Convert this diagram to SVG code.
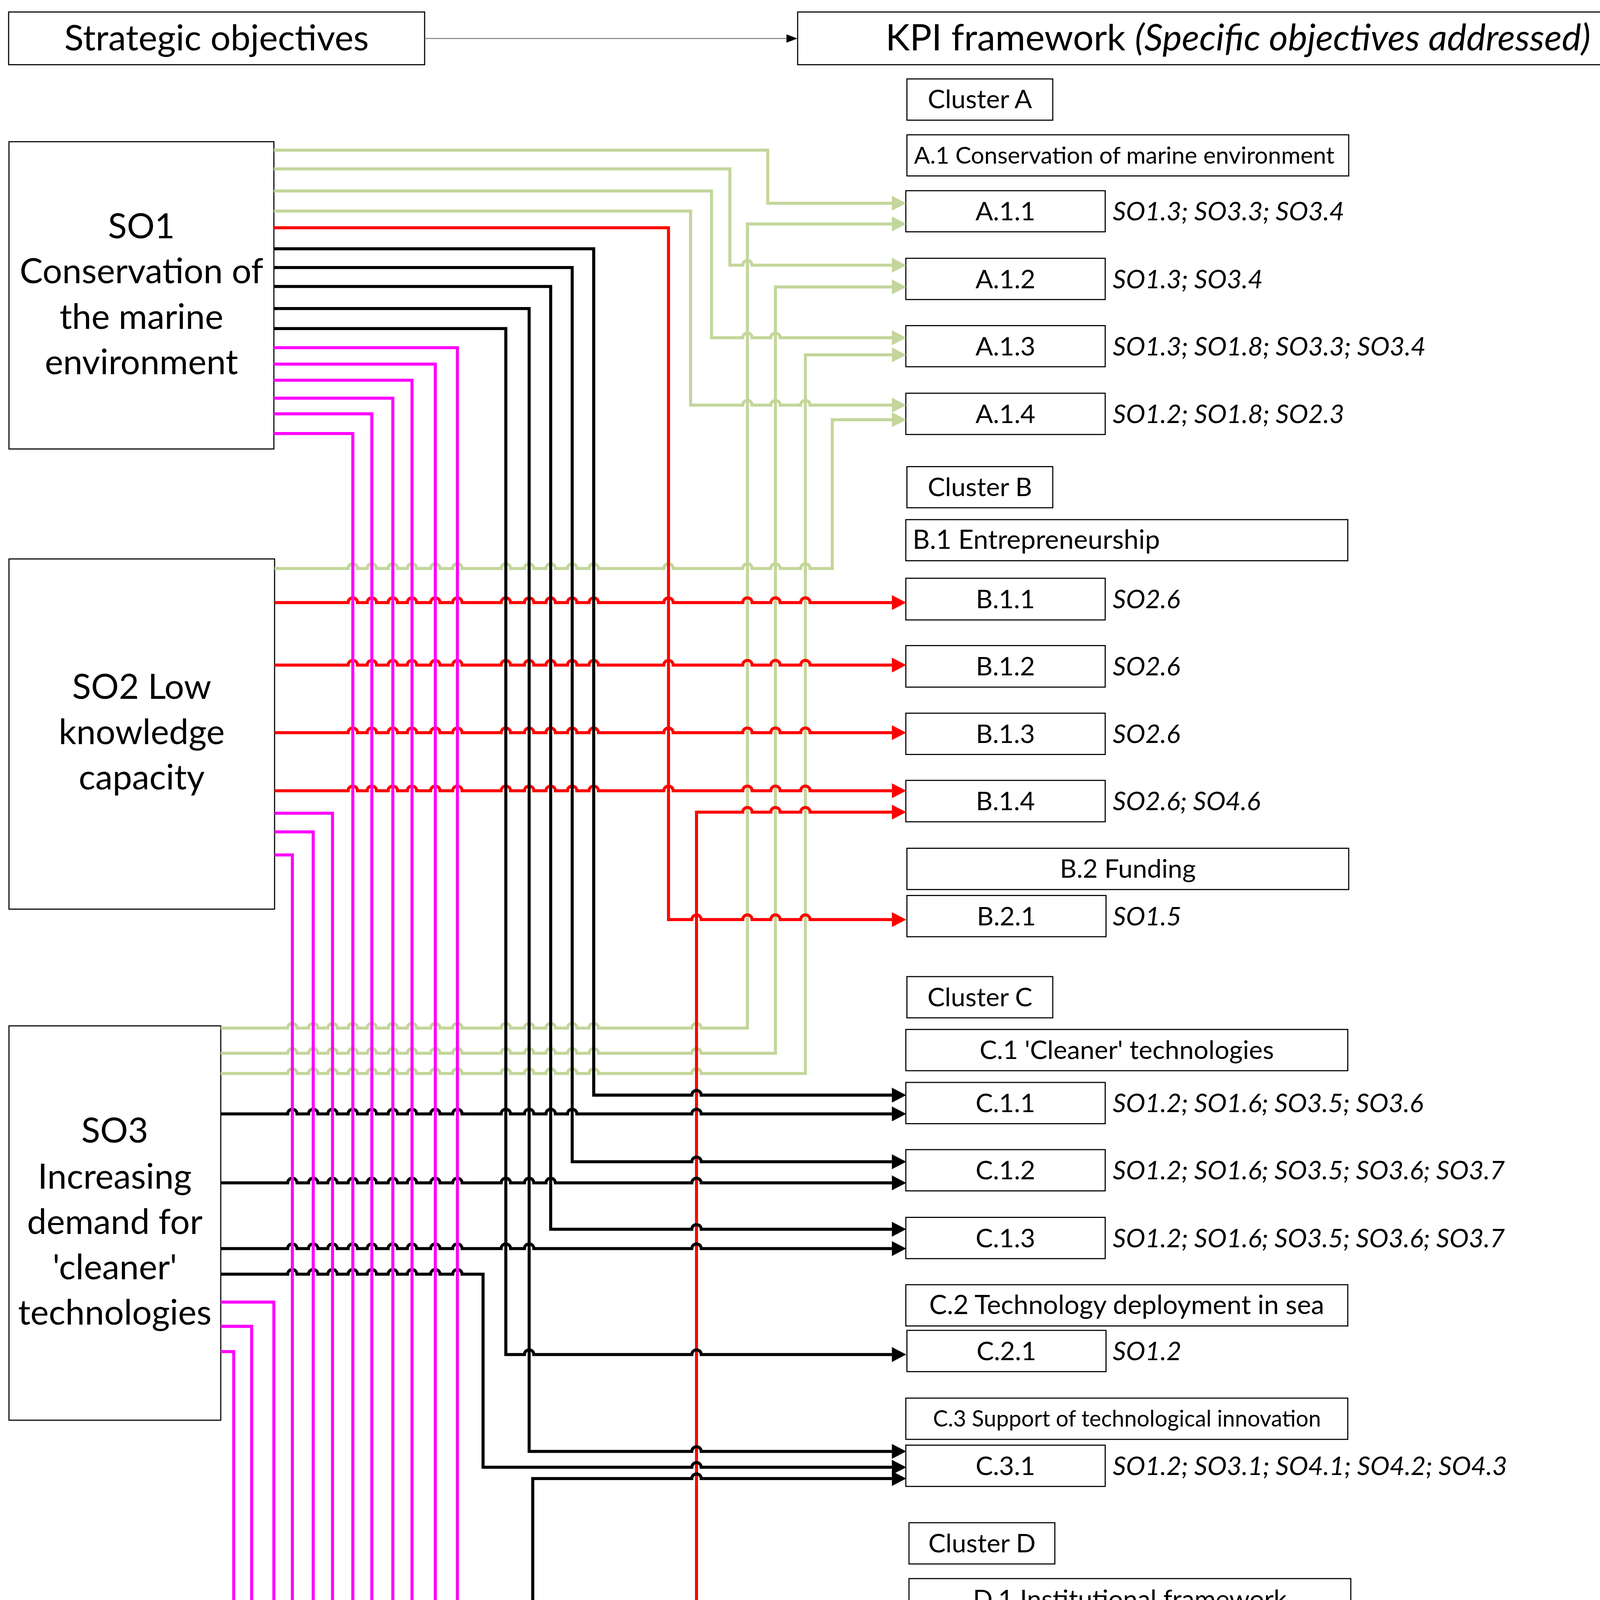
<svg xmlns="http://www.w3.org/2000/svg" width="4327" height="5527" viewBox="0 0 4327 5527">
<style>
.box{fill:#fff;stroke:#000;stroke-width:0.8}
.c{fill:none;stroke-width:2.2;stroke-linejoin:miter}
.g{stroke:#C3D69B}
.r{stroke:#FF0000}
.k{stroke:#000000}
.m{stroke:#FF00FF}
.g.c{marker-end:url(#ag)}
.r.c{marker-end:url(#ar)}
.k.c{marker-end:url(#ak)}
.m.c{marker-end:url(#am)}
text{font-family:Lato,'Liberation Sans',sans-serif;fill:#000}
.so{font-size:25.2px;text-anchor:middle}
.top{font-size:25.8px;text-anchor:middle}
.lab{font-size:18.8px;text-anchor:middle}
.hd{font-size:19px}
.side{font-size:18.8px;font-style:italic}
</style>
<defs>
<marker id="ag" markerUnits="userSpaceOnUse" markerWidth="10.4" markerHeight="10.8" viewBox="0 0 10.4 10.8" refX="0" refY="5.4" orient="auto"><path d="M0 0L10.4 5.4L0 10.8Z" fill="#C3D69B"/></marker>
<marker id="ar" markerUnits="userSpaceOnUse" markerWidth="10.4" markerHeight="10.8" viewBox="0 0 10.4 10.8" refX="0" refY="5.4" orient="auto"><path d="M0 0L10.4 5.4L0 10.8Z" fill="#FF0000"/></marker>
<marker id="ak" markerUnits="userSpaceOnUse" markerWidth="10.4" markerHeight="10.8" viewBox="0 0 10.4 10.8" refX="0" refY="5.4" orient="auto"><path d="M0 0L10.4 5.4L0 10.8Z" fill="#000000"/></marker>
<marker id="am" markerUnits="userSpaceOnUse" markerWidth="10.4" markerHeight="10.8" viewBox="0 0 10.4 10.8" refX="0" refY="5.4" orient="auto"><path d="M0 0L10.4 5.4L0 10.8Z" fill="#FF00FF"/></marker>
<marker id="ah" markerUnits="userSpaceOnUse" markerWidth="8" markerHeight="6" viewBox="0 0 8 6" refX="0" refY="3" orient="auto"><path d="M0 0L8 3L0 6Z" fill="#000"/></marker>
</defs>
<rect width="4327" height="5527" fill="#fff"/>
<g transform="scale(3.5322)">
<g id="header-strategic"><rect class="box" x="6.25" y="8.7" width="301.5" height="38.2"/><text class="top" x="157" y="36.6">Strategic objectives</text></g>
<g id="header-kpi"><rect class="box" x="578.1" y="8.7" width="638.3" height="38.2"/><text class="top" x="897.3" y="36.6" style="font-size:26.5px">KPI framework <tspan font-style="italic">(Specific objectives addressed)</tspan></text></g>

<g id="SO1"><rect class="box" x="6.5" y="102.7" width="192" height="222.7"/><text class="so" x="102.5" y="172.7">SO1</text><text class="so" x="102.5" y="205.2">Conservation of</text><text class="so" x="102.5" y="238.3">the marine</text><text class="so" x="102.5" y="271.3">environment</text></g>
<g id="SO2"><rect class="box" x="6.5" y="405.1" width="192.5" height="253.8"/><text class="so" x="102.7" y="506.6">SO2 Low</text><text class="so" x="102.7" y="539.4">knowledge</text><text class="so" x="102.7" y="572.1">capacity</text></g>
<g id="SO3"><rect class="box" x="6.5" y="743.5" width="153.5" height="285.8"/><text class="so" x="83.2" y="828">SO3</text><text class="so" x="83.2" y="861.5">Increasing</text><text class="so" x="83.2" y="894.4">demand for</text><text class="so" x="83.2" y="927.2">'cleaner'</text><text class="so" x="83.2" y="960.1">technologies</text></g>
<g id="SO4"><rect class="box" x="6.5" y="1216.3" width="151.2" height="321.1"/><text class="so" x="82.1" y="1351.5">SO4</text><text class="so" x="82.1" y="1384.4">Cooperation</text><text class="so" x="82.1" y="1418">for R&amp;D&amp;I</text></g>

<g id="clusterA"><rect class="box" x="657.3" y="57.2" width="105.7" height="29.9"/><text class="lab" x="710.2" y="78.5">Cluster A</text></g>
<g id="A1"><rect class="box" x="657.3" y="97.7" width="320.2" height="29.8"/><text class="hd" x="662.5" y="118.6" style="font-size:17.1px">A.1 Conservation of marine environment</text></g>
<g id="A11"><rect class="box" x="656.5" y="138.2" width="144.5" height="29.8"/><text class="lab" x="728.7" y="159.8">A.1.1</text><text class="side" x="806.5" y="159.8">SO1.3; SO3.3; SO3.4</text></g>
<g id="A12"><rect class="box" x="656.5" y="187.2" width="144.5" height="29.9"/><text class="lab" x="728.7" y="208.8">A.1.2</text><text class="side" x="806.5" y="208.8">SO1.3; SO3.4</text></g>
<g id="A13"><rect class="box" x="656.5" y="236" width="144.5" height="29.8"/><text class="lab" x="728.7" y="257.6">A.1.3</text><text class="side" x="806.5" y="257.6">SO1.3; SO1.8; SO3.3; SO3.4</text></g>
<g id="A14"><rect class="box" x="656.5" y="285" width="144.5" height="29.9"/><text class="lab" x="728.7" y="306.6">A.1.4</text><text class="side" x="806.5" y="306.6">SO1.2; SO1.8; SO2.3</text></g>

<g id="clusterB"><rect class="box" x="657.3" y="338.2" width="105.7" height="29.8"/><text class="lab" x="710.2" y="359.6">Cluster B</text></g>
<g id="B1"><rect class="box" x="656.5" y="376.6" width="320.3" height="29.8"/><text class="hd" x="661.4" y="397.8" style="font-size:19.3px">B.1 Entrepreneurship</text></g>
<g id="B11"><rect class="box" x="656.5" y="419.1" width="144.5" height="30.2"/><text class="lab" x="728.7" y="440.8">B.1.1</text><text class="side" x="806.5" y="440.8">SO2.6</text></g>
<g id="B12"><rect class="box" x="656.5" y="467.9" width="144.5" height="30.1"/><text class="lab" x="728.7" y="489.6">B.1.2</text><text class="side" x="806.5" y="489.6">SO2.6</text></g>
<g id="B13"><rect class="box" x="656.5" y="516.9" width="144.5" height="29.9"/><text class="lab" x="728.7" y="538.5">B.1.3</text><text class="side" x="806.5" y="538.5">SO2.6</text></g>
<g id="B14"><rect class="box" x="656.5" y="565.6" width="144.5" height="30"/><text class="lab" x="728.7" y="587.2">B.1.4</text><text class="side" x="806.5" y="587.2">SO2.6; SO4.6</text></g>
<g id="B2"><rect class="box" x="657.3" y="614.8" width="320.2" height="29.9"/><text class="lab" x="817.4" y="636.2">B.2 Funding</text></g>
<g id="B21"><rect class="box" x="657.3" y="649" width="144.3" height="29.9"/><text class="lab" x="729.4" y="670.6">B.2.1</text><text class="side" x="806.5" y="670.6">SO1.5</text></g>

<g id="clusterC"><rect class="box" x="657.3" y="707.8" width="105.7" height="29.9"/><text class="lab" x="710.2" y="729.2">Cluster C</text></g>
<g id="C1"><rect class="box" x="656.5" y="746.1" width="320.3" height="29.9"/><text class="lab" x="816.6" y="767.5">C.1 'Cleaner' technologies</text></g>
<g id="C11"><rect class="box" x="656.5" y="784.5" width="144.5" height="29.9"/><text class="lab" x="728.7" y="806.1">C.1.1</text><text class="side" x="806.5" y="806.1">SO1.2; SO1.6; SO3.5; SO3.6</text></g>
<g id="C12"><rect class="box" x="656.5" y="833.2" width="144.5" height="29.9"/><text class="lab" x="728.7" y="854.8">C.1.2</text><text class="side" x="806.5" y="854.8">SO1.2; SO1.6; SO3.5; SO3.6; SO3.7</text></g>
<g id="C13"><rect class="box" x="656.5" y="882.3" width="144.5" height="29.9"/><text class="lab" x="728.7" y="903.9">C.1.3</text><text class="side" x="806.5" y="903.9">SO1.2; SO1.6; SO3.5; SO3.6; SO3.7</text></g>
<g id="C2"><rect class="box" x="656.5" y="931.1" width="320.3" height="29.9"/><text class="lab" x="816.6" y="952.5" style="font-size:19.2px">C.2 Technology deployment in sea</text></g>
<g id="C21"><rect class="box" x="657.3" y="964.2" width="144.3" height="29.9"/><text class="lab" x="729.4" y="985.8">C.2.1</text><text class="side" x="806.5" y="985.8">SO1.2</text></g>
<g id="C3"><rect class="box" x="656.5" y="1013.3" width="320.3" height="29.9"/><text class="lab" x="816.8" y="1034" style="font-size:16.2px">C.3 Support of technological innovation</text></g>
<g id="C31"><rect class="box" x="656.5" y="1047.4" width="144.5" height="29.9"/><text class="lab" x="728.7" y="1069">C.3.1</text><text class="side" x="806.5" y="1069">SO1.2; SO3.1; SO4.1; SO4.2; SO4.3</text></g>

<g id="clusterD"><rect class="box" x="658.8" y="1103.6" width="105.7" height="29.9"/><text class="lab" x="711.7" y="1125">Cluster D</text></g>
<g id="D1"><rect class="box" x="658.8" y="1144.1" width="320.2" height="29.9"/><text class="lab" x="818.9" y="1165.5">D.1 Institutional framework</text></g>
<g id="D11"><rect class="box" x="658.5" y="1178.1" width="144.5" height="29.9"/><text class="lab" x="730.7" y="1199.7">D.1.1</text><text class="side" x="806.5" y="1199.7">SO1.1; SO1.6; SO1.7; SO3.1; SO3.2</text></g>
<g id="D12"><rect class="box" x="658.5" y="1233.6" width="144.5" height="29.9"/><text class="lab" x="730.7" y="1255.2">D.1.2</text><text class="side" x="806.5" y="1242.6">SO1.1; SO1.2; SO1.6; SO1.7; SO3.1; SO3.2;</text><text class="side" x="806.5" y="1266.7">SO3.3; SO3.4; SO3.5; SO3.6; SO3.7; SO3.9; SO4.2</text></g>
<g id="D13"><rect class="box" x="658.5" y="1289.1" width="144.5" height="29.9"/><text class="lab" x="730.7" y="1310.7">D.1.3</text><text class="side" x="806.5" y="1310.7">SO1.7; SO3.2</text></g>
<g id="D2"><rect class="box" x="657.3" y="1326.8" width="320.2" height="30"/><text class="lab" x="817.4" y="1348.3">D.2 Capacity building</text></g>
<g id="D21"><rect class="box" x="658.5" y="1364.6" width="144.5" height="29.9"/><text class="lab" x="730.7" y="1386.2">D.2.1</text><text class="side" x="806.5" y="1386.2">SO1.8; SO2.2; SO2.3; SO2.4; SO4.1</text></g>
<g id="D22"><rect class="box" x="658.5" y="1407" width="144.5" height="29.9"/><text class="lab" x="730.7" y="1428.6">D.2.2</text><text class="side" x="806.5" y="1428.6">SO1.8; SO4.1</text></g>
<g id="D23"><rect class="box" x="658.5" y="1447.5" width="144.5" height="29.9"/><text class="lab" x="730.7" y="1469.1">D.2.3</text><text class="side" x="806.5" y="1469.1">SO1.8; SO2.2; SO2.3; SO4.1</text></g>
<g id="D3"><rect class="box" x="658.8" y="1489.9" width="320.2" height="30"/><text class="lab" x="818.9" y="1511.4">D.3 Synergies and conflicts</text></g>
<g id="D31"><rect class="box" x="658.5" y="1528" width="144.5" height="29.9"/><text class="lab" x="730.7" y="1549.6">D.3.1</text><text class="side" x="806.5" y="1549.6">SO1.4; SO2.1; SO2.5; SO4.3; SO4.4; SO4.5</text></g>

<g id="connectors">
<path d="M307.8 27.9H570" fill="none" stroke="#7F7F7F" stroke-width="0.7" marker-end="url(#ah)"/>
<path class="c g" d="M198.5 108.8H556.4V147.3H646.4"/>
<path class="c g" d="M198.5 122.4H529V192.2H538.3a3.4 3.4 0 0 1 6.8 0H646.4"/>
<path class="c g" d="M198.5 138.4H515.7V244.8H538.3a3.4 3.4 0 0 1 6.8 0H558.6a3.4 3.4 0 0 1 6.8 0H646.4"/>
<path class="c g" d="M198.5 153H500.5V293.6H538.3a3.4 3.4 0 0 1 6.8 0H558.6a3.4 3.4 0 0 1 6.8 0H580.3a3.4 3.4 0 0 1 6.8 0H646.4"/>
<path class="c g" d="M199 412H252.3a3.4 3.4 0 0 1 6.8 0H266.1a3.4 3.4 0 0 1 6.8 0H281.3a3.4 3.4 0 0 1 6.8 0H295.2a3.4 3.4 0 0 1 6.8 0H312.1a3.4 3.4 0 0 1 6.8 0H328.1a3.4 3.4 0 0 1 6.8 0H363.2a3.4 3.4 0 0 1 6.8 0H380.1a3.4 3.4 0 0 1 6.8 0H395.7a3.4 3.4 0 0 1 6.8 0H411.3a3.4 3.4 0 0 1 6.8 0H426.9a3.4 3.4 0 0 1 6.8 0H481.1a3.4 3.4 0 0 1 6.8 0H538.3a3.4 3.4 0 0 1 6.8 0H558.6a3.4 3.4 0 0 1 6.8 0H580.3a3.4 3.4 0 0 1 6.8 0H603.2V304.2H646.4"/>
<path class="c g" d="M160 745.1H208.5a3.4 3.4 0 0 1 6.8 0H223.6a3.4 3.4 0 0 1 6.8 0H237.6a3.4 3.4 0 0 1 6.8 0H252.3a3.4 3.4 0 0 1 6.8 0H266.1a3.4 3.4 0 0 1 6.8 0H281.3a3.4 3.4 0 0 1 6.8 0H295.2a3.4 3.4 0 0 1 6.8 0H312.1a3.4 3.4 0 0 1 6.8 0H328.1a3.4 3.4 0 0 1 6.8 0H363.2a3.4 3.4 0 0 1 6.8 0H380.1a3.4 3.4 0 0 1 6.8 0H395.7a3.4 3.4 0 0 1 6.8 0H411.3a3.4 3.4 0 0 1 6.8 0H426.9a3.4 3.4 0 0 1 6.8 0H501.4a3.4 3.4 0 0 1 6.8 0H541.7V162.3H646.4"/>
<path class="c g" d="M160 763.4H208.5a3.4 3.4 0 0 1 6.8 0H223.6a3.4 3.4 0 0 1 6.8 0H237.6a3.4 3.4 0 0 1 6.8 0H252.3a3.4 3.4 0 0 1 6.8 0H266.1a3.4 3.4 0 0 1 6.8 0H281.3a3.4 3.4 0 0 1 6.8 0H295.2a3.4 3.4 0 0 1 6.8 0H312.1a3.4 3.4 0 0 1 6.8 0H328.1a3.4 3.4 0 0 1 6.8 0H363.2a3.4 3.4 0 0 1 6.8 0H380.1a3.4 3.4 0 0 1 6.8 0H395.7a3.4 3.4 0 0 1 6.8 0H411.3a3.4 3.4 0 0 1 6.8 0H426.9a3.4 3.4 0 0 1 6.8 0H501.4a3.4 3.4 0 0 1 6.8 0H562V208H646.4"/>
<path class="c g" d="M160 778H208.5a3.4 3.4 0 0 1 6.8 0H223.6a3.4 3.4 0 0 1 6.8 0H237.6a3.4 3.4 0 0 1 6.8 0H252.3a3.4 3.4 0 0 1 6.8 0H266.1a3.4 3.4 0 0 1 6.8 0H281.3a3.4 3.4 0 0 1 6.8 0H295.2a3.4 3.4 0 0 1 6.8 0H312.1a3.4 3.4 0 0 1 6.8 0H328.1a3.4 3.4 0 0 1 6.8 0H363.2a3.4 3.4 0 0 1 6.8 0H380.1a3.4 3.4 0 0 1 6.8 0H395.7a3.4 3.4 0 0 1 6.8 0H411.3a3.4 3.4 0 0 1 6.8 0H426.9a3.4 3.4 0 0 1 6.8 0H501.4a3.4 3.4 0 0 1 6.8 0H583.7V257.2H646.4"/>

<path class="c r" d="M198.5 165.1H484.5V666.5H501.4a3.4 3.4 0 0 1 6.8 0H538.3a3.4 3.4 0 0 1 6.8 0H558.6a3.4 3.4 0 0 1 6.8 0H580.3a3.4 3.4 0 0 1 6.8 0H646.4"/>
<path class="c r" d="M199 436.7H252.3a3.4 3.4 0 0 1 6.8 0H266.1a3.4 3.4 0 0 1 6.8 0H281.3a3.4 3.4 0 0 1 6.8 0H295.2a3.4 3.4 0 0 1 6.8 0H312.1a3.4 3.4 0 0 1 6.8 0H328.1a3.4 3.4 0 0 1 6.8 0H363.2a3.4 3.4 0 0 1 6.8 0H380.1a3.4 3.4 0 0 1 6.8 0H395.7a3.4 3.4 0 0 1 6.8 0H411.3a3.4 3.4 0 0 1 6.8 0H426.9a3.4 3.4 0 0 1 6.8 0H481.1a3.4 3.4 0 0 1 6.8 0H538.3a3.4 3.4 0 0 1 6.8 0H558.6a3.4 3.4 0 0 1 6.8 0H580.3a3.4 3.4 0 0 1 6.8 0H646.4"/>
<path class="c r" d="M199 482H252.3a3.4 3.4 0 0 1 6.8 0H266.1a3.4 3.4 0 0 1 6.8 0H281.3a3.4 3.4 0 0 1 6.8 0H295.2a3.4 3.4 0 0 1 6.8 0H312.1a3.4 3.4 0 0 1 6.8 0H328.1a3.4 3.4 0 0 1 6.8 0H363.2a3.4 3.4 0 0 1 6.8 0H380.1a3.4 3.4 0 0 1 6.8 0H395.7a3.4 3.4 0 0 1 6.8 0H411.3a3.4 3.4 0 0 1 6.8 0H426.9a3.4 3.4 0 0 1 6.8 0H481.1a3.4 3.4 0 0 1 6.8 0H538.3a3.4 3.4 0 0 1 6.8 0H558.6a3.4 3.4 0 0 1 6.8 0H580.3a3.4 3.4 0 0 1 6.8 0H646.4"/>
<path class="c r" d="M199 531H252.3a3.4 3.4 0 0 1 6.8 0H266.1a3.4 3.4 0 0 1 6.8 0H281.3a3.4 3.4 0 0 1 6.8 0H295.2a3.4 3.4 0 0 1 6.8 0H312.1a3.4 3.4 0 0 1 6.8 0H328.1a3.4 3.4 0 0 1 6.8 0H363.2a3.4 3.4 0 0 1 6.8 0H380.1a3.4 3.4 0 0 1 6.8 0H395.7a3.4 3.4 0 0 1 6.8 0H411.3a3.4 3.4 0 0 1 6.8 0H426.9a3.4 3.4 0 0 1 6.8 0H481.1a3.4 3.4 0 0 1 6.8 0H538.3a3.4 3.4 0 0 1 6.8 0H558.6a3.4 3.4 0 0 1 6.8 0H580.3a3.4 3.4 0 0 1 6.8 0H646.4"/>
<path class="c r" d="M199 573.1H252.3a3.4 3.4 0 0 1 6.8 0H266.1a3.4 3.4 0 0 1 6.8 0H281.3a3.4 3.4 0 0 1 6.8 0H295.2a3.4 3.4 0 0 1 6.8 0H312.1a3.4 3.4 0 0 1 6.8 0H328.1a3.4 3.4 0 0 1 6.8 0H363.2a3.4 3.4 0 0 1 6.8 0H380.1a3.4 3.4 0 0 1 6.8 0H395.7a3.4 3.4 0 0 1 6.8 0H411.3a3.4 3.4 0 0 1 6.8 0H426.9a3.4 3.4 0 0 1 6.8 0H481.1a3.4 3.4 0 0 1 6.8 0H538.3a3.4 3.4 0 0 1 6.8 0H558.6a3.4 3.4 0 0 1 6.8 0H580.3a3.4 3.4 0 0 1 6.8 0H646.4"/>
<path class="c r" d="M157.7 1221.7H166a3.4 3.4 0 0 1 6.8 0H179a3.4 3.4 0 0 1 6.8 0H208.5a3.4 3.4 0 0 1 6.8 0H223.6a3.4 3.4 0 0 1 6.8 0H237.6a3.4 3.4 0 0 1 6.8 0H252.3a3.4 3.4 0 0 1 6.8 0H266.1a3.4 3.4 0 0 1 6.8 0H281.3a3.4 3.4 0 0 1 6.8 0H295.2a3.4 3.4 0 0 1 6.8 0H312.1a3.4 3.4 0 0 1 6.8 0H382.7a3.4 3.4 0 0 1 6.8 0H504.8V588.6H538.3a3.4 3.4 0 0 1 6.8 0H558.6a3.4 3.4 0 0 1 6.8 0H580.3a3.4 3.4 0 0 1 6.8 0H646.4"/>

<path class="c k" d="M198.5 180.3H430.3V793.7H501.4a3.4 3.4 0 0 1 6.8 0H646.4"/>
<path class="c k" d="M198.5 193.9H414.7V842H501.4a3.4 3.4 0 0 1 6.8 0H646.4"/>
<path class="c k" d="M198.5 207.6H399.1V890.9H501.4a3.4 3.4 0 0 1 6.8 0H646.4"/>
<path class="c k" d="M198.5 223.6H383.5V1051.9H501.4a3.4 3.4 0 0 1 6.8 0H646.4"/>
<path class="c k" d="M198.5 238.1H366.6V981.7H380.1a3.4 3.4 0 0 1 6.8 0H501.4a3.4 3.4 0 0 1 6.8 0H646.4"/>
<path class="c k" d="M160 807.3H208.5a3.4 3.4 0 0 1 6.8 0H223.6a3.4 3.4 0 0 1 6.8 0H237.6a3.4 3.4 0 0 1 6.8 0H252.3a3.4 3.4 0 0 1 6.8 0H266.1a3.4 3.4 0 0 1 6.8 0H281.3a3.4 3.4 0 0 1 6.8 0H295.2a3.4 3.4 0 0 1 6.8 0H312.1a3.4 3.4 0 0 1 6.8 0H328.1a3.4 3.4 0 0 1 6.8 0H363.2a3.4 3.4 0 0 1 6.8 0H380.1a3.4 3.4 0 0 1 6.8 0H395.7a3.4 3.4 0 0 1 6.8 0H411.3a3.4 3.4 0 0 1 6.8 0H501.4a3.4 3.4 0 0 1 6.8 0H646.4"/>
<path class="c k" d="M160 857.3H208.5a3.4 3.4 0 0 1 6.8 0H223.6a3.4 3.4 0 0 1 6.8 0H237.6a3.4 3.4 0 0 1 6.8 0H252.3a3.4 3.4 0 0 1 6.8 0H266.1a3.4 3.4 0 0 1 6.8 0H281.3a3.4 3.4 0 0 1 6.8 0H295.2a3.4 3.4 0 0 1 6.8 0H312.1a3.4 3.4 0 0 1 6.8 0H328.1a3.4 3.4 0 0 1 6.8 0H363.2a3.4 3.4 0 0 1 6.8 0H380.1a3.4 3.4 0 0 1 6.8 0H395.7a3.4 3.4 0 0 1 6.8 0H501.4a3.4 3.4 0 0 1 6.8 0H646.4"/>
<path class="c k" d="M160 904.9H208.5a3.4 3.4 0 0 1 6.8 0H223.6a3.4 3.4 0 0 1 6.8 0H237.6a3.4 3.4 0 0 1 6.8 0H252.3a3.4 3.4 0 0 1 6.8 0H266.1a3.4 3.4 0 0 1 6.8 0H281.3a3.4 3.4 0 0 1 6.8 0H295.2a3.4 3.4 0 0 1 6.8 0H312.1a3.4 3.4 0 0 1 6.8 0H328.1a3.4 3.4 0 0 1 6.8 0H363.2a3.4 3.4 0 0 1 6.8 0H380.1a3.4 3.4 0 0 1 6.8 0H501.4a3.4 3.4 0 0 1 6.8 0H646.4"/>
<path class="c k" d="M160 923.5H208.5a3.4 3.4 0 0 1 6.8 0H223.6a3.4 3.4 0 0 1 6.8 0H237.6a3.4 3.4 0 0 1 6.8 0H252.3a3.4 3.4 0 0 1 6.8 0H266.1a3.4 3.4 0 0 1 6.8 0H281.3a3.4 3.4 0 0 1 6.8 0H295.2a3.4 3.4 0 0 1 6.8 0H312.1a3.4 3.4 0 0 1 6.8 0H328.1a3.4 3.4 0 0 1 6.8 0H350.1V1063.4H501.4a3.4 3.4 0 0 1 6.8 0H646.4"/>
<path class="c k" d="M157.7 1232.2H166a3.4 3.4 0 0 1 6.8 0H179a3.4 3.4 0 0 1 6.8 0H208.5a3.4 3.4 0 0 1 6.8 0H223.6a3.4 3.4 0 0 1 6.8 0H237.6a3.4 3.4 0 0 1 6.8 0H252.3a3.4 3.4 0 0 1 6.8 0H266.1a3.4 3.4 0 0 1 6.8 0H281.3a3.4 3.4 0 0 1 6.8 0H295.2a3.4 3.4 0 0 1 6.8 0H312.1a3.4 3.4 0 0 1 6.8 0H386.1V1071.6H501.4a3.4 3.4 0 0 1 6.8 0H646.4"/>

<path class="c m" d="M198.5 252H331.5V1187.9H382.7a3.4 3.4 0 0 1 6.8 0H501.4a3.4 3.4 0 0 1 6.8 0H648.1"/>
<path class="c m" d="M198.5 263.9H315.5V1243H648.1"/>
<path class="c m" d="M198.5 275.6H298.6V1299.7H648.1"/>
<path class="c m" d="M198.5 288.6H284.7V1415H648.1"/>
<path class="c m" d="M198.5 299.9H269.5V1464.8H648.1"/>
<path class="c m" d="M198.5 314.2H255.7V1531.7H648.1"/>
<path class="c m" d="M199 589.4H241V1371.2H252.3a3.4 3.4 0 0 1 6.8 0H266.1a3.4 3.4 0 0 1 6.8 0H281.3a3.4 3.4 0 0 1 6.8 0H648.1"/>
<path class="c m" d="M199 602.9H227V1471.7H252.3a3.4 3.4 0 0 1 6.8 0H648.1"/>
<path class="c m" d="M199 619.6H211.9V1542.2H648.1"/>
<path class="c m" d="M160 943.7H198.5V1202.4H208.5a3.4 3.4 0 0 1 6.8 0H223.6a3.4 3.4 0 0 1 6.8 0H237.6a3.4 3.4 0 0 1 6.8 0H252.3a3.4 3.4 0 0 1 6.8 0H266.1a3.4 3.4 0 0 1 6.8 0H281.3a3.4 3.4 0 0 1 6.8 0H295.2a3.4 3.4 0 0 1 6.8 0H312.1a3.4 3.4 0 0 1 6.8 0H382.7a3.4 3.4 0 0 1 6.8 0H501.4a3.4 3.4 0 0 1 6.8 0H648.1"/>
<path class="c m" d="M160 961.3H182.4V1252.1H208.5a3.4 3.4 0 0 1 6.8 0H223.6a3.4 3.4 0 0 1 6.8 0H237.6a3.4 3.4 0 0 1 6.8 0H252.3a3.4 3.4 0 0 1 6.8 0H266.1a3.4 3.4 0 0 1 6.8 0H281.3a3.4 3.4 0 0 1 6.8 0H295.2a3.4 3.4 0 0 1 6.8 0H648.1"/>
<path class="c m" d="M160 979.6H169.4V1313.1H208.5a3.4 3.4 0 0 1 6.8 0H223.6a3.4 3.4 0 0 1 6.8 0H237.6a3.4 3.4 0 0 1 6.8 0H252.3a3.4 3.4 0 0 1 6.8 0H266.1a3.4 3.4 0 0 1 6.8 0H281.3a3.4 3.4 0 0 1 6.8 0H648.1"/>
<path class="c m" d="M157.7 1259.6H166a3.4 3.4 0 0 1 6.8 0H208.5a3.4 3.4 0 0 1 6.8 0H223.6a3.4 3.4 0 0 1 6.8 0H237.6a3.4 3.4 0 0 1 6.8 0H252.3a3.4 3.4 0 0 1 6.8 0H266.1a3.4 3.4 0 0 1 6.8 0H281.3a3.4 3.4 0 0 1 6.8 0H295.2a3.4 3.4 0 0 1 6.8 0H648.1"/>
<path class="c m" d="M157.7 1382.7H208.5a3.4 3.4 0 0 1 6.8 0H223.6a3.4 3.4 0 0 1 6.8 0H252.3a3.4 3.4 0 0 1 6.8 0H266.1a3.4 3.4 0 0 1 6.8 0H281.3a3.4 3.4 0 0 1 6.8 0H648.1"/>
<path class="c m" d="M157.7 1429.6H208.5a3.4 3.4 0 0 1 6.8 0H223.6a3.4 3.4 0 0 1 6.8 0H252.3a3.4 3.4 0 0 1 6.8 0H266.1a3.4 3.4 0 0 1 6.8 0H648.1"/>
<path class="c m" d="M157.7 1456.2H208.5a3.4 3.4 0 0 1 6.8 0H223.6a3.4 3.4 0 0 1 6.8 0H252.3a3.4 3.4 0 0 1 6.8 0H266.1a3.4 3.4 0 0 1 6.8 0H648.1"/>
<path class="c m" d="M157.7 1478.7H173.3V1553.1H648.1"/>
</g>
</g>
</svg>
